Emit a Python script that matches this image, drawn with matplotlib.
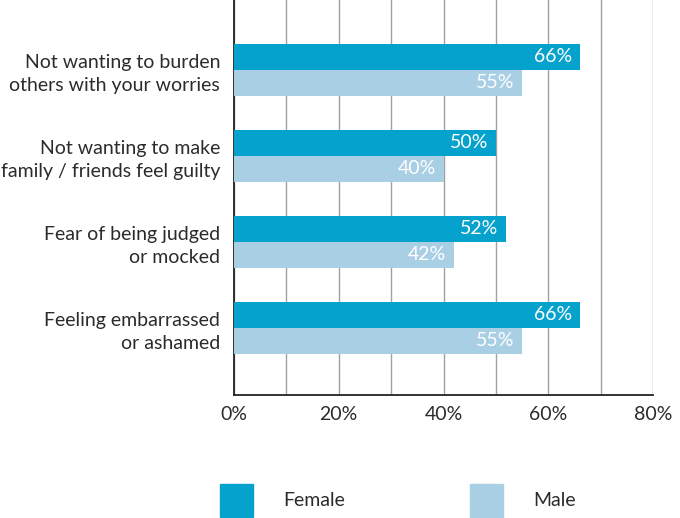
import matplotlib.pyplot as plt
from matplotlib.patches import Rectangle
import numpy as np

plt.rcParams['font.family'] = ['Lato', 'DejaVu Sans']

categories = ["Not wanting to burden\nothers with your worries",
              "Not wanting to make\nfamily / friends feel guilty",
              "Fear of being judged\nor mocked",
              "Feeling embarrassed\nor ashamed"]
female = [66, 50, 52, 66]
male = [55, 40, 42, 55]
xticks = [0, 20, 40, 60, 80]

c_female = '#05a2cd'
c_male = '#a9cfe5'
text_col = '#2b2b2b'
fs = 14

fig = plt.figure(figsize=(6.8, 5.18), dpi=100)
ax = fig.add_axes([234 / 680, 1 - 395 / 518, 419 / 680, 395 / 518])

y = np.arange(len(categories))
h = 0.30
bf = ax.barh(y - h / 2, female, height=h, color=c_female, zorder=3)
bm = ax.barh(y + h / 2, male, height=h, color=c_male, zorder=3)

for bars, vals in ((bf, female), (bm, male)):
    for b, v in zip(bars, vals):
        ax.text(v - 1.5, b.get_y() + b.get_height() / 2, f"{v}%",
                ha='right', va='center', color='white', fontsize=fs, zorder=4)

ax.set_xlim(0, 80)
ax.set_ylim(3.78, -0.81)
ax.set_xticks(np.arange(0, 81, 10), minor=True)
ax.set_xticks(xticks)
ax.set_xticklabels([f"{t}%" for t in xticks], fontsize=fs, color=text_col)
ax.grid(axis='x', which='both', color='#a0a0a0', linewidth=1, zorder=0)
ax.tick_params(axis='x', which='both', length=0, pad=8)
ax.set_yticks(y)
ax.set_yticklabels(categories, fontsize=fs, color=text_col, linespacing=1.4)
ax.tick_params(axis='y', length=0, pad=10)
for lbl in ax.get_yticklabels():
    lbl.set_horizontalalignment('right')
for s in ('top', 'right'):
    ax.spines[s].set_visible(False)
for s in ('left', 'bottom'):
    ax.spines[s].set_color('#222222')
    ax.spines[s].set_linewidth(1.3)

# legend drawn as plain squares and labels along the bottom edge
for x0, col, name in ((220, c_female, 'Female'), (470, c_male, 'Male')):
    fig.add_artist(Rectangle((x0 / 680, 1 / 518), 33 / 680, 33 / 518,
                             transform=fig.transFigure, color=col))
    fig.text((x0 + 63) / 680, 18 / 518, name, ha='left', va='center',
             fontsize=fs, color=text_col)

fig.savefig('out.png', dpi=100)
